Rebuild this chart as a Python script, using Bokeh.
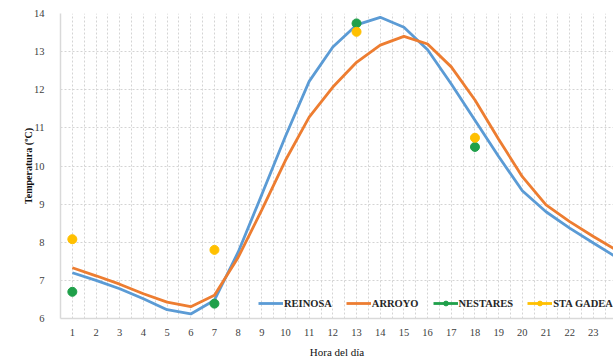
import numpy as np
from bokeh.plotting import figure
from bokeh.models import FixedTicker, Legend, LegendItem, Range1d, ColumnDataSource
from bokeh.embed import file_html
from bokeh.resources import INLINE

# ---- data ----
hours = list(range(1, 25))
reinosa = [7.20, 7.00, 6.78, 6.52, 6.23, 6.12, 6.48, 7.74, 9.25, 10.78, 12.22, 13.12,
           13.70, 13.90, 13.64, 13.05, 12.15, 11.20, 10.25, 9.35, 8.80, 8.37, 7.98, 7.60]
arroyo = [7.33, 7.12, 6.90, 6.65, 6.43, 6.31, 6.61, 7.60, 8.85, 10.15, 11.28, 12.07,
          12.72, 13.17, 13.40, 13.20, 12.60, 11.73, 10.70, 9.72, 8.98, 8.54, 8.15, 7.78]
obs_hours = [1, 7, 13, 18]
nestares = [6.70, 6.39, 13.74, 10.50]
sta_gadea = [8.08, 7.80, 13.52, 10.74]
y_ticks = [6, 7, 8, 9, 10, 11, 12, 13, 14]

BLUE = "#5B9BD5"
ORANGE = "#ED7D31"
GREEN = "#1FA04A"
YELLOW = "#FFC000"
SERIF = "Liberation Serif"

p = figure(width=613, height=360, output_backend="svg", toolbar_location=None,
           x_range=Range1d(0.5, 23.85), y_range=Range1d(6, 14),
           min_border_left=60, min_border_right=0, min_border_top=13,
           min_border_bottom=39, outline_line_color=None)

# grids
p.xgrid.ticker = FixedTicker(ticks=list(np.arange(0.5, 25.0, 0.5)))
p.ygrid.ticker = FixedTicker(ticks=y_ticks)
for g in (p.xgrid, p.ygrid):
    g.grid_line_color = "#D4D4D4"
    g.grid_line_dash = "2 2"
    g.grid_line_width = 1

# axes
p.xaxis.ticker = FixedTicker(ticks=hours)
p.yaxis.ticker = FixedTicker(ticks=y_ticks)
for ax in (p.xaxis, p.yaxis):
    ax.axis_line_color = "#D9D9D9"
    ax.axis_line_width = 1.5
    ax.major_tick_line_color = None
    ax.minor_tick_line_color = None
    ax.major_label_text_font = SERIF
    ax.major_label_text_font_size = "10.5px"
    ax.major_label_text_color = "#404040"
    ax.axis_label_text_font = SERIF
    ax.axis_label_text_color = "#111111"
p.xaxis.major_label_standoff = 4
p.yaxis.major_label_standoff = 10
p.xaxis.axis_label = "Hora del día"
p.xaxis.axis_label_text_font_size = "11px"
p.xaxis.axis_label_text_font_style = "normal"
p.xaxis.axis_label_standoff = 7
p.yaxis.axis_label = "Temperatura (ºC)"
p.yaxis.axis_label_text_font_size = "10px"
p.yaxis.axis_label_text_font_style = "bold"
p.yaxis.axis_label_standoff = -3

# series
r_rei = p.line(hours, reinosa, line_color=BLUE, line_width=2.8)
r_arr = p.line(hours, arroyo, line_color=ORANGE, line_width=2.8)
r_nes = p.scatter(obs_hours, nestares, size=9, fill_color=GREEN, line_color=GREEN)
r_sta = p.scatter(obs_hours, sta_gadea, size=9, fill_color=YELLOW, line_color=YELLOW)
# legend-only line samples for the point series (no drawable data)
ghost = ColumnDataSource(data=dict(x=[np.nan], y=[np.nan]))
l_nes = p.line("x", "y", source=ghost, line_color=GREEN, line_width=2.8)
l_sta = p.line("x", "y", source=ghost, line_color=YELLOW, line_width=2.8)

legend = Legend(items=[
    LegendItem(label="REINOSA", renderers=[r_rei]),
    LegendItem(label="ARROYO", renderers=[r_arr]),
    LegendItem(label="NESTARES", renderers=[l_nes, r_nes]),
    LegendItem(label="STA GADEA", renderers=[l_sta, r_sta]),
], orientation="horizontal", location=(198, 9))
legend.background_fill_alpha = 0
legend.border_line_color = None
legend.padding = 0
legend.margin = 0
legend.spacing = 14
legend.glyph_width = 25
legend.glyph_height = 12
legend.label_height = 12
legend.label_standoff = 1
legend.label_text_font = SERIF
legend.label_text_font_style = "bold"
legend.label_text_font_size = "10.5px"
legend.label_text_color = "#262626"
p.add_layout(legend)

open("out.html", "w").write(file_html(p, INLINE))
